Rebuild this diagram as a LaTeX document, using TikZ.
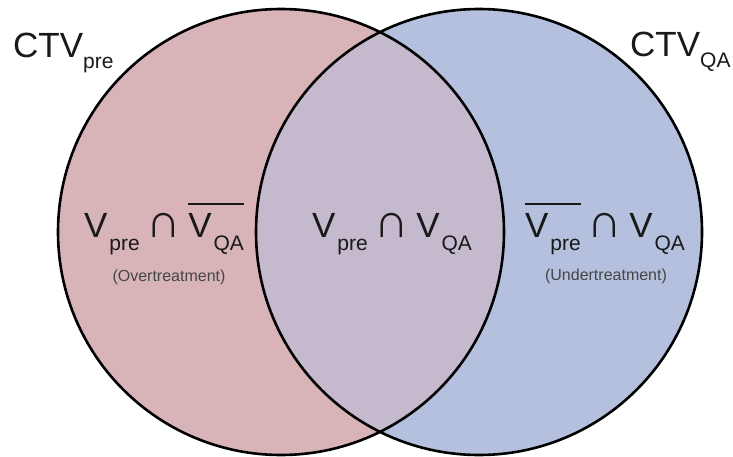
\documentclass[tikz,border=0pt]{standalone}
\usepackage{fontspec}
\setmainfont{Liberation Sans}
\definecolor{pinkc}{RGB}{216,180,185}
\definecolor{bluec}{RGB}{180,192,221}
\definecolor{mixc}{RGB}{197,185,205}
\definecolor{txt}{RGB}{25,25,25}
\definecolor{smalltxt}{RGB}{70,70,70}
\newcommand\bigV{{\fontsize{35}{40}\selectfont V}}
\newcommand\bigtxt[1]{{\fontsize{35}{40}\selectfont #1}}
\newcommand\subx[2]{\hspace{#1}\raisebox{-13pt}{\fontsize{21}{24}\selectfont #2}}
\newcommand\ovbar[1]{\setbox0\hbox{#1}\rlap{\rule[32pt]{\wd0}{1.8pt}}\box0}
\newcommand\capsym{{\fontsize{48}{50}\selectfont ∩}}
\begin{document}
\begin{tikzpicture}[x=1pt,y=-1pt,
  circ/.style={line width=2.6pt,draw=black},
  lbl/.style={inner sep=0pt,anchor=base,text=txt},
  note/.style={inner sep=0pt,anchor=base,text=smalltxt,font=\fontsize{16}{18}\selectfont}]
\useasboundingbox (0,0) rectangle (733,457);
\fill[pinkc] (281,232) circle (223);
\fill[bluec] (479,232) circle (223);
\begin{scope}
  \clip (281,232) circle (223);
  \fill[mixc] (479,232) circle (223);
\end{scope}
\draw[circ] (281,232) circle (223);
\draw[circ] (479,232) circle (223);
\node[inner sep=0pt,anchor=base west,text=txt] (ctvpre) at (13,58)
  {\bigtxt{CTV}\raisebox{-11pt}{\fontsize{21}{24}\selectfont pre}};
\node[inner sep=0pt,anchor=base west,text=txt] (ctvqa) at (630,57)
  {\bigtxt{CTV}\raisebox{-11pt}{\fontsize{21}{24}\selectfont QA}};
\node[lbl] (left) at (164,237)
  {\bigV\subx{2pt}{pre}\hspace{7pt}\capsym\hspace{7pt}\ovbar{\bigV\subx{2pt}{QA}}};
\node[lbl] (mid) at (392,237)
  {\bigV\subx{2pt}{pre}\hspace{7pt}\capsym\hspace{7pt}\bigV\subx{2pt}{QA}};
\node[lbl] (right) at (605,237)
  {\ovbar{\bigV\subx{2pt}{pre}}\hspace{7pt}\capsym\hspace{7pt}\bigV\subx{2pt}{QA}};
\node[note] (over) at (169,281) {(Overtreatment)};
\node[note] (under) at (606,280) {(Undertreatment)};
\end{tikzpicture}
\end{document}
